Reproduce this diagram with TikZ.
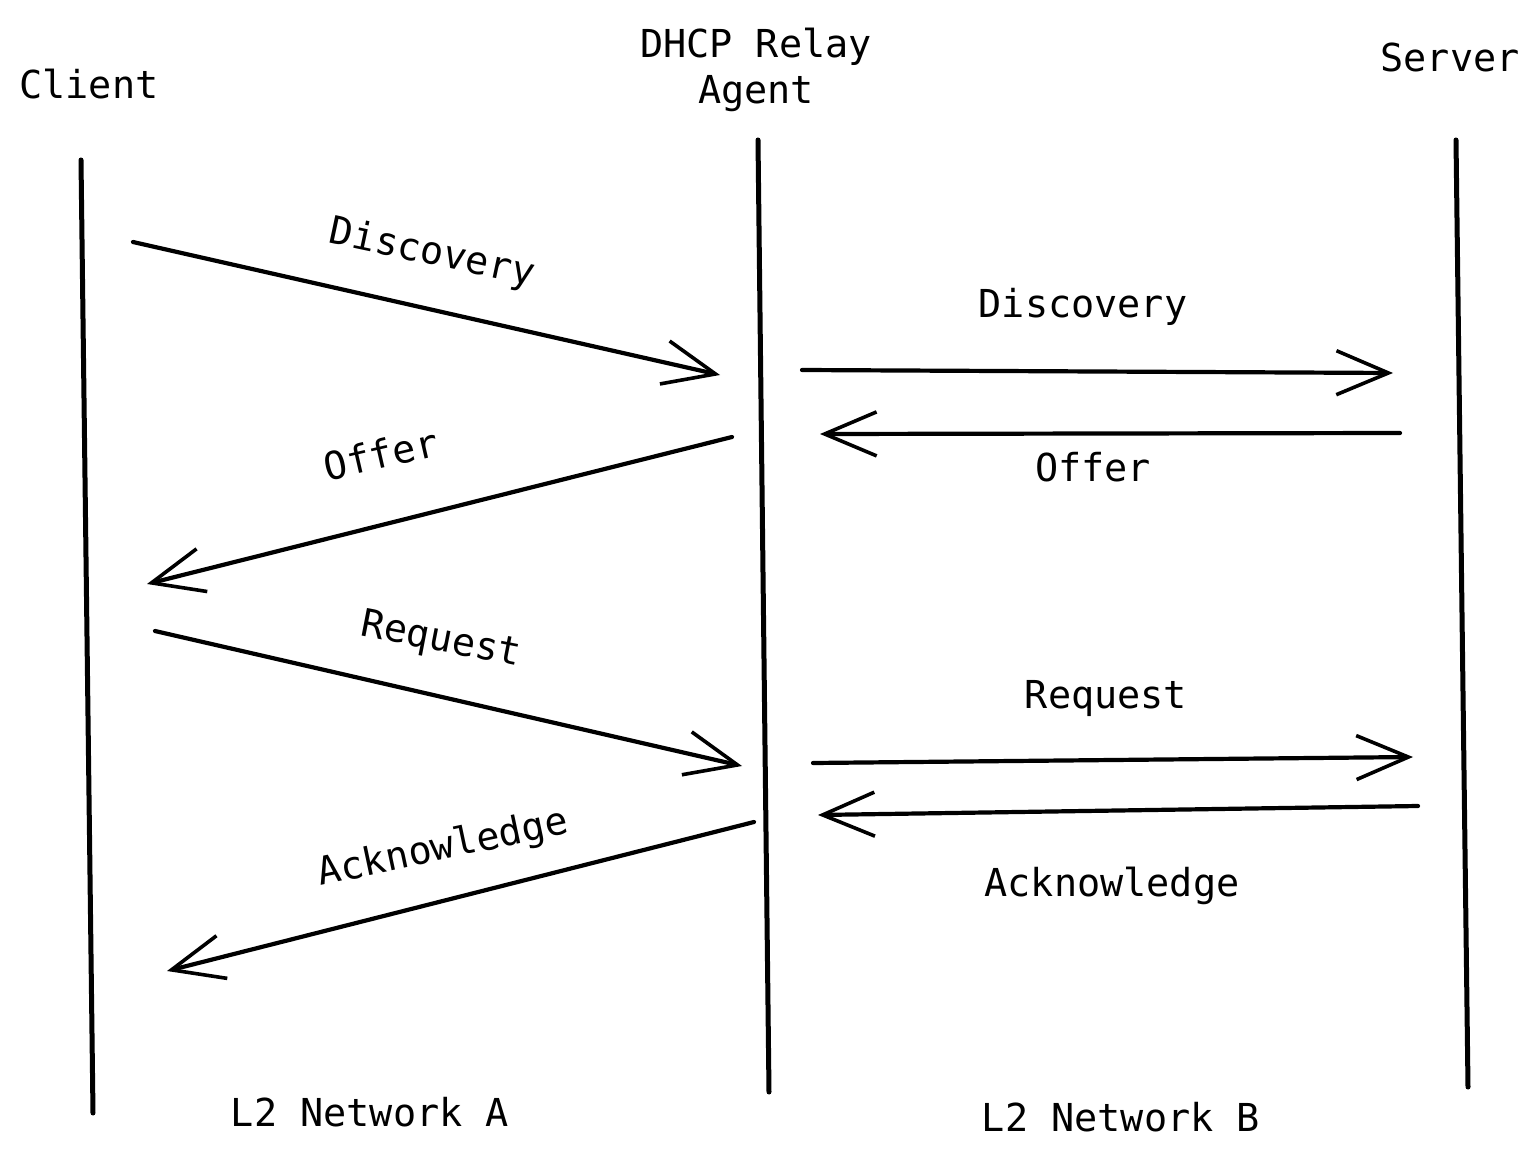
\documentclass[tikz,border=0pt]{standalone}
\usepackage{fontspec}
\setmonofont{DejaVu Sans Mono}
\usetikzlibrary{arrows.meta}
\begin{document}
\begin{tikzpicture}[x=1pt,y=-1pt,
  lifeline/.style={line width=5pt,line cap=round},
  msg/.style={line width=4.2pt,line cap=round,
    -{Straight Barb[length=52pt,width=44pt,line width=3.6pt]}},
  lbl/.style={font=\ttfamily\fontsize{38.5}{46}\selectfont,inner sep=0pt,align=center}]
\useasboundingbox (0,0) rectangle (1540,1161);
% titles
\node[lbl] (client) at (89,84) {Client};
\node[lbl] (relay) at (756,70) {DHCP Relay\\Agent};
\node[lbl] (server) at (1450,57) {Server};
% lifelines
\coordinate (c1) at (81,160); \coordinate (c2) at (93,1113);
\coordinate (r1) at (758,140); \coordinate (r2) at (769,1092);
\coordinate (s1) at (1456,140); \coordinate (s2) at (1468,1087);
\draw[lifeline] (c1) -- (c2);
\draw[lifeline] (r1) -- (r2);
\draw[lifeline] (s1) -- (s2);
% message endpoints
\coordinate (d1a) at (133,242); \coordinate (d1b) at (720,375);
\coordinate (d2a) at (802,370); \coordinate (d2b) at (1393,373);
\coordinate (o2a) at (1400,433); \coordinate (o2b) at (820,434);
\coordinate (o1a) at (732,437); \coordinate (o1b) at (147,584);
\coordinate (q1a) at (155,631); \coordinate (q1b) at (742,766);
\coordinate (q2a) at (813,763); \coordinate (q2b) at (1413,757);
\coordinate (k2a) at (1418,806); \coordinate (k2b) at (818,815);
\coordinate (k1a) at (754,822); \coordinate (k1b) at (167,971);
\draw[msg] (d1a) -- (d1b);
\draw[msg] (d2a) -- (d2b);
\draw[msg] (o2a) -- (o2b);
\draw[msg] (o1a) -- (o1b);
\draw[msg] (q1a) -- (q1b);
\draw[msg] (q2a) -- (q2b);
\draw[msg] (k2a) -- (k2b);
\draw[msg] (k1a) -- (k1b);
% labels
\node[lbl,rotate=-12] (ld1) at (432,254) {Discovery};
\node[lbl] (ld2) at (1083,307) {Discovery};
\node[lbl] (lo2) at (1093,467) {Offer};
\node[lbl,rotate=13] (lo1) at (381,454) {Offer};
\node[lbl,rotate=-11] (lq1) at (441,641) {Request};
\node[lbl] (lq2) at (1106,699) {Request};
\node[lbl] (lk2) at (1112,886) {Acknowledge};
\node[lbl,rotate=12] (lk1) at (443,849) {Acknowledge};
\node[lbl] (na) at (370,1112) {L2 Network A};
\node[lbl] (nb) at (1121,1117) {L2 Network B};
\end{tikzpicture}
\end{document}
